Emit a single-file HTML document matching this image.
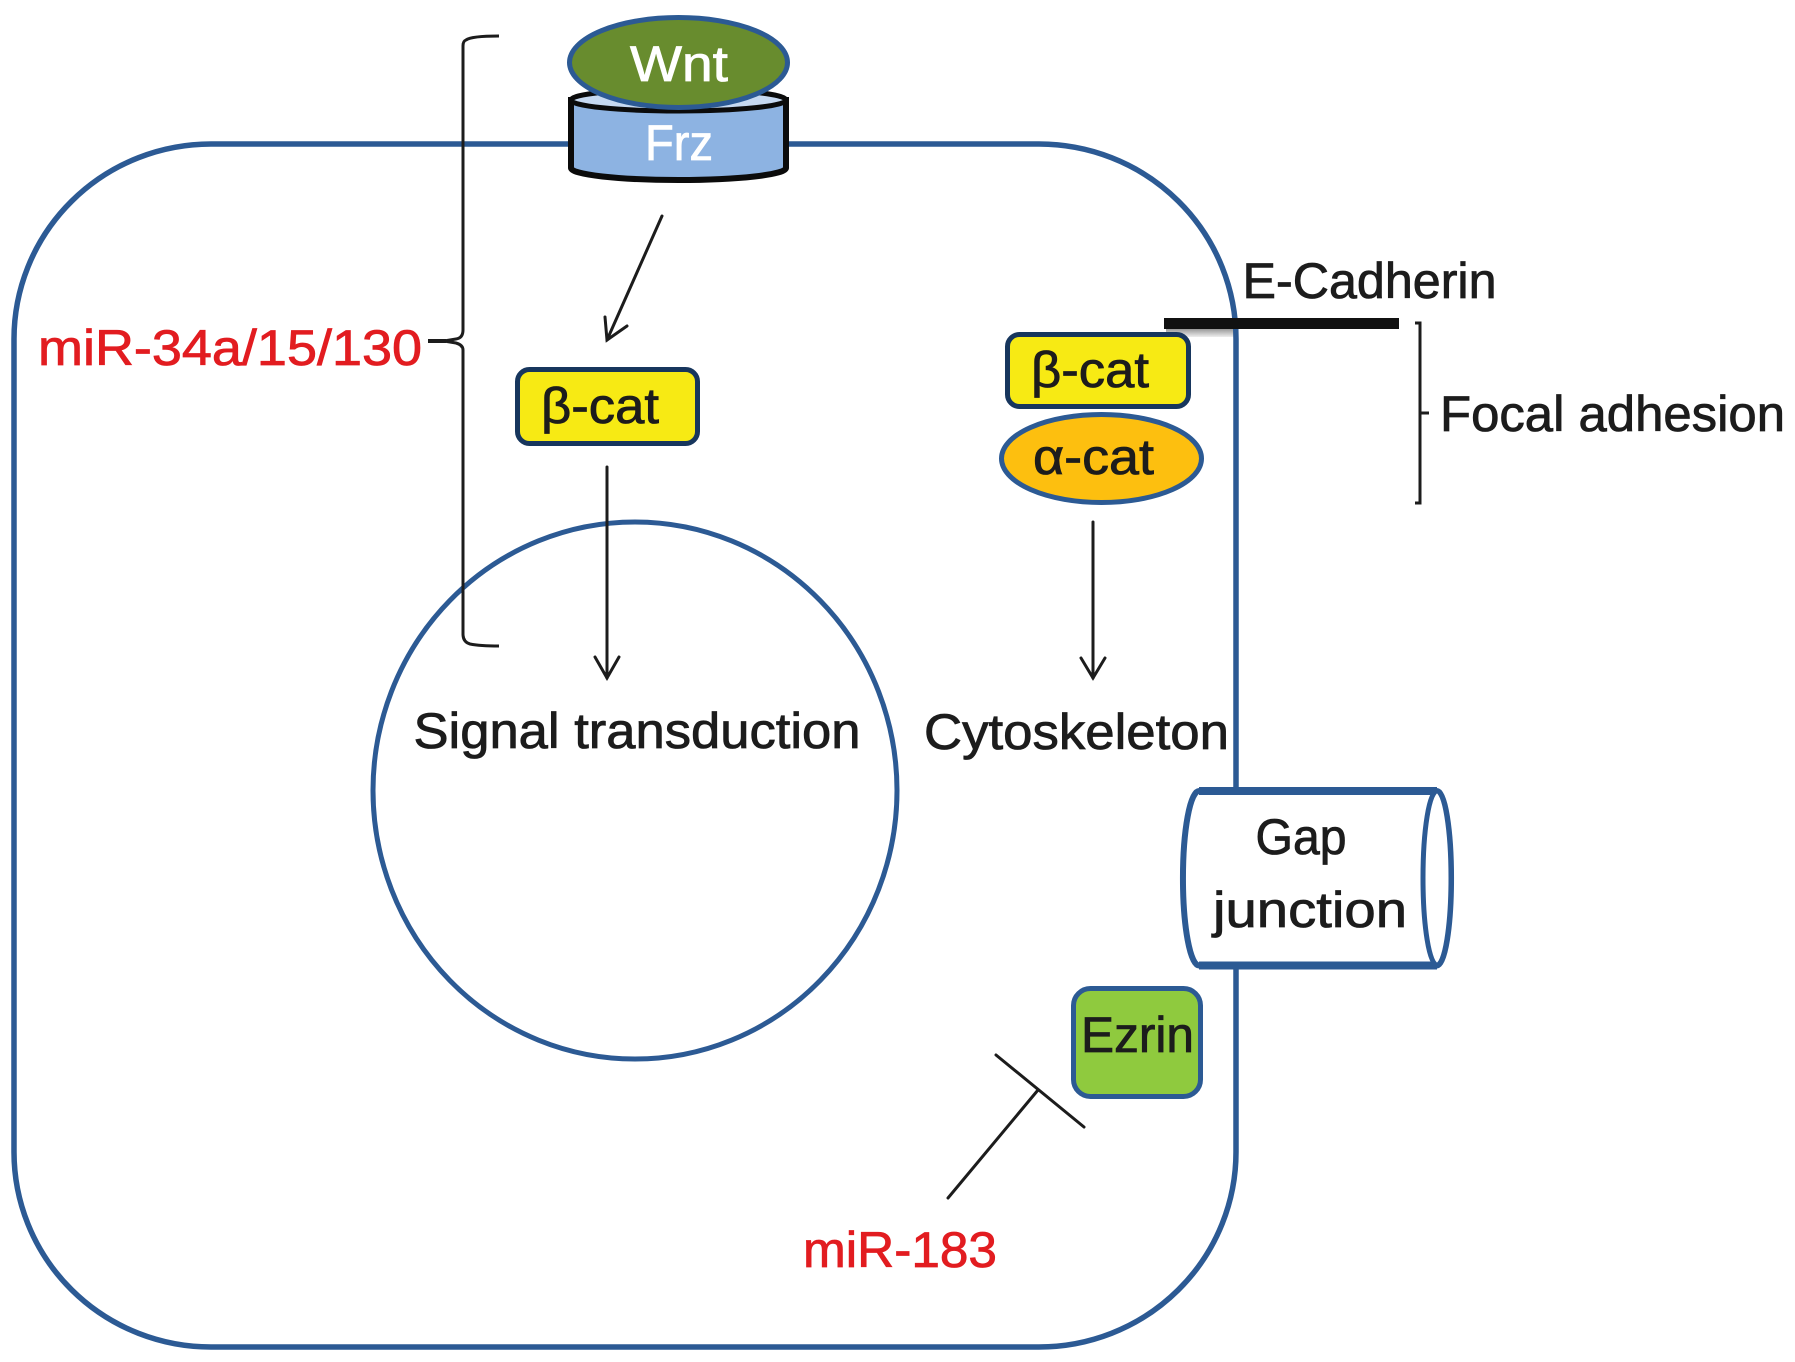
<!DOCTYPE html>
<html lang="en">
<head>
<meta charset="utf-8">
<title>Cell signalling diagram</title>
<style>
html,body{margin:0;padding:0;background:#fff}
svg{display:block}
text{font-family:"Liberation Sans",sans-serif;font-size:50px;fill:#1c1c1c;stroke:#1c1c1c;stroke-width:.8px}
.r{fill:#e21c20;stroke:#e21c20}
.w{fill:#fff;stroke:#fff}
</style>
</head>
<body>
<svg width="1795" height="1362" viewBox="0 0 1795 1362" xmlns="http://www.w3.org/2000/svg">
<rect width="1795" height="1362" fill="#fff"/>
<defs>
<linearGradient id="sh" x1="0" y1="0" x2="0" y2="1"><stop offset="0" stop-color="#999"/><stop offset="1" stop-color="#eee"/></linearGradient>
</defs>

<!-- shadow + E-cadherin bar -->
<rect x="1166" y="329" width="70" height="8" fill="url(#sh)"/>

<!-- cell -->
<rect x="14" y="144" width="1222" height="1203" rx="197" ry="195" fill="none" stroke="#2c5a94" stroke-width="5.500"/>

<rect x="1164" y="318" width="235" height="11" fill="#111"/>

<!-- nucleus -->
<ellipse cx="635" cy="790.500" rx="262" ry="268.500" fill="none" stroke="#2c5a94" stroke-width="5"/>

<!-- left bracket -->
<path d="M499,36 C484,36 470,37 466,40 Q463,41 463,46 V330 Q463,338 456,339 L444,341 L456,343 Q463,345 463,350 V634 Q463,642 470,644 Q480,646 499,646" fill="none" stroke="#1c1c1c" stroke-width="3"/>
<path d="M428,341 H446" fill="none" stroke="#1c1c1c" stroke-width="4"/>

<!-- Frz -->
<path d="M571,100 V168 A107.500,12 0 0 0 786,168 V100 Z" fill="#8db3e2" stroke="#0b0b0b" stroke-width="6"/>
<ellipse cx="678.500" cy="100" rx="107.500" ry="11" fill="#c6d9f1" stroke="#0b0b0b" stroke-width="5"/>
<!-- Wnt -->
<ellipse cx="678.500" cy="62.500" rx="109" ry="45" fill="#688c2e" stroke="#2c5a94" stroke-width="5"/>

<!-- arrows -->
<g fill="none" stroke="#1c1c1c" stroke-width="3" stroke-linecap="round">
<path d="M662,216 L607,340"/>
<path d="M605,317 L607,340 L627,326"/>
<path d="M607,467 V678"/>
<path d="M595,657 L607,678 L619,657"/>
<path d="M1093,522 V678"/>
<path d="M1081,658 L1093,678 L1105,658"/>
<path d="M948,1198 L1038,1090"/>
<path d="M996,1055 L1084,1127"/>
</g>

<!-- right bracket -->
<path d="M1415,323 H1420 V503 H1415 M1420,413 H1429" fill="none" stroke="#1c1c1c" stroke-width="3"/>

<!-- beta-cat 1 -->
<rect x="517.500" y="369.500" width="180" height="74" rx="12" fill="#f7ea14" stroke="#17365d" stroke-width="5"/>
<!-- beta-cat 2 -->
<rect x="1007.500" y="334.500" width="181" height="72" rx="12" fill="#f7ea14" stroke="#17365d" stroke-width="5"/>
<!-- alpha-cat -->
<ellipse cx="1101.500" cy="458.500" rx="100" ry="44" fill="#fdbf0f" stroke="#2c5a94" stroke-width="5"/>

<!-- gap junction -->
<path d="M1437,791 H1199 A16,87 0 0 0 1199,965.500 H1437 A14,87 0 0 0 1437,791 Z" fill="#fff" stroke="#2c5a94" stroke-width="6"/>
<path d="M1199,791 H1437 M1199,965.500 H1437" fill="none" stroke="#2c5a94" stroke-width="8"/>
<ellipse cx="1437" cy="878" rx="14" ry="87" fill="#fff" stroke="#2c5a94" stroke-width="5"/>

<!-- ezrin -->
<rect x="1073.500" y="988.500" width="127" height="108" rx="17" fill="#8fca3e" stroke="#2c5a94" stroke-width="5"/>

<!-- labels -->
<text class="w" x="630" y="81" textLength="98" lengthAdjust="spacingAndGlyphs">Wnt</text>
<text class="w" x="645" y="160" textLength="68" lengthAdjust="spacingAndGlyphs">Frz</text>
<text x="541" y="423" textLength="118" lengthAdjust="spacingAndGlyphs">β-cat</text>
<text x="1031" y="387" textLength="118" lengthAdjust="spacingAndGlyphs">β-cat</text>
<text x="1033" y="474" textLength="121" lengthAdjust="spacingAndGlyphs">α-cat</text>
<text x="1242.500" y="298" textLength="254" lengthAdjust="spacingAndGlyphs">E-Cadherin</text>
<text x="1440" y="431" textLength="345" lengthAdjust="spacingAndGlyphs">Focal adhesion</text>
<text class="r" x="38" y="365" textLength="384" lengthAdjust="spacingAndGlyphs">miR-34a/15/130</text>
<text x="413.500" y="748" textLength="447" lengthAdjust="spacingAndGlyphs">Signal transduction</text>
<text x="924" y="749" textLength="305" lengthAdjust="spacingAndGlyphs">Cytoskeleton</text>
<text x="1255.500" y="854" textLength="91" lengthAdjust="spacingAndGlyphs">Gap</text>
<text x="1213" y="927" textLength="194" lengthAdjust="spacingAndGlyphs">junction</text>
<text x="1081" y="1052" textLength="113" lengthAdjust="spacingAndGlyphs">Ezrin</text>
<text class="r" x="803" y="1267" textLength="194" lengthAdjust="spacingAndGlyphs">miR-183</text>
</svg>
</body>
</html>
